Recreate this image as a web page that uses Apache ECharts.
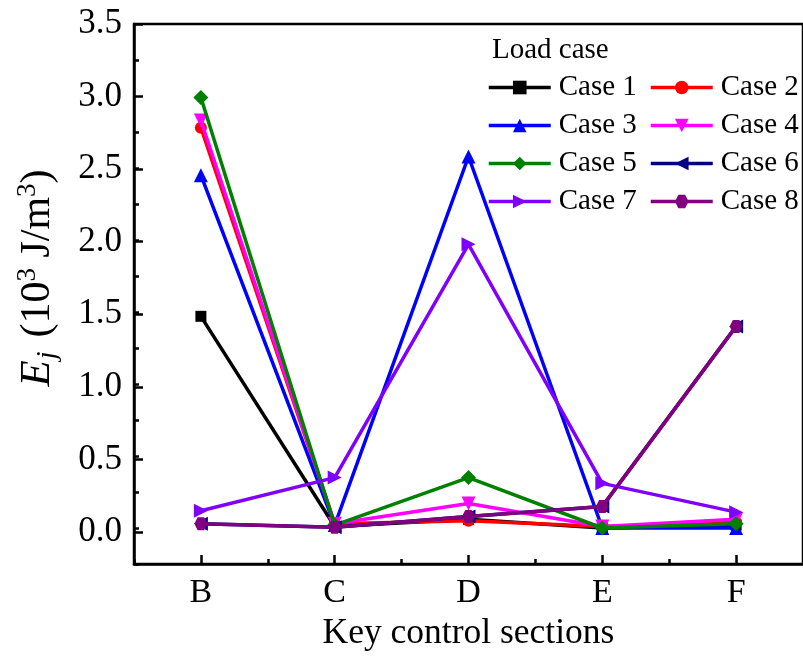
<!DOCTYPE html>
<html>
<head>
<meta charset="utf-8">
<script src="https://cdn.jsdelivr.net/npm/echarts@6/dist/echarts.min.js"></script>
<style>
html,body{margin:0;padding:0;background:#fff;}
#chart{width:803px;height:657px;}
</style>
</head>
<body>
<div id="chart"></div>
<script>
var categories = ['B', 'C', 'D', 'E', 'F'];
var seriesNames = ['Case 1', 'Case 2', 'Case 3', 'Case 4', 'Case 5', 'Case 6', 'Case 7', 'Case 8'];
var case1 = [1.47, 0.01, 0.06, 0.00, 0.02];
var case2 = [2.78, 0.03, 0.05, 0.01, 0.04];
var case3 = [2.45, 0.02, 2.58, 0.00, 0.00];
var case4 = [2.83, 0.03, 0.17, 0.01, 0.06];
var case5 = [2.99, 0.02, 0.35, 0.00, 0.03];
var case6 = [0.03, 0.005, 0.08, 0.15, 1.40];
var case7 = [0.12, 0.35, 1.97, 0.31, 0.11];
var case8 = [0.03, 0.005, 0.08, 0.15, 1.40];
var yTickLabels = ['0.0', '0.5', '1.0', '1.5', '2.0', '2.5', '3.0', '3.5'];

var values = [case1, case2, case3, case4, case5, case6, case7, case8];
var colors = ['#000000', '#ff0000', '#0000ff', '#ff00ff', '#008000', '#000080', '#8000ff', '#800080'];
var hexPath = 'path://M-10,0 L-5,-8.66 L5,-8.66 L10,0 L5,8.66 L-5,8.66 Z';
var symbols = ['rect', 'circle', 'triangle', 'triangle', 'diamond', 'triangle', 'triangle', hexPath];
var rotates = [0, 0, 0, 180, 0, 90, -90, 0];
var sizes = [11, 12, 14, 14, 15, 14, 14, 13];

var font = 'Liberation Serif';
var chart = echarts.init(document.getElementById('chart'), null, {renderer: 'canvas'});

var series = seriesNames.map(function (n, i) {
  return {
    name: n,
    type: 'line',
    xAxisIndex: 0,
    yAxisIndex: 0,
    data: values[i],
    symbol: symbols[i],
    symbolRotate: rotates[i],
    symbolSize: sizes[i],
    showAllSymbol: true,
    lineStyle: {width: 3.5, color: colors[i]},
    itemStyle: {color: colors[i]},
    emphasis: {disabled: true},
    animation: false,
    z: 2 + i
  };
});

var legendText = {fontFamily: font, fontSize: 29, color: '#000', lineHeight: 28, padding: [0, 0, 0, 3]};

var option = {
  backgroundColor: '#fff',
  animation: false,
  title: {
    text: 'Load case', left: 487, top: 31,
    textStyle: {fontFamily: font, fontSize: 29, fontWeight: 'normal', color: '#000'}
  },
  legend: [
    {data: ['Case 1', 'Case 3', 'Case 5', 'Case 7'], orient: 'vertical', left: 487, top: 73,
     itemWidth: 62, itemHeight: 17, itemGap: 9, padding: 0, textStyle: legendText,
     lineStyle: {width: 3.5}},
    {data: ['Case 2', 'Case 4', 'Case 6', 'Case 8'], orient: 'vertical', left: 649, top: 73,
     itemWidth: 62, itemHeight: 17, itemGap: 9, padding: 0, textStyle: legendText,
     lineStyle: {width: 3.5}}
  ],
  grid: [
    {left: 134, right: -4, top: 24, bottom: 88, show: true, borderColor: '#000', borderWidth: 2.5, backgroundColor: 'transparent'},
    {left: 134, right: -4, top: 24, bottom: 125, show: false}
  ],
  xAxis: [
    {type: 'category', gridIndex: 0, data: categories, boundaryGap: true, position: 'bottom',
     axisLine: {show: true, onZero: false, lineStyle: {color: '#000', width: 2.5}},
     axisTick: {show: true, alignWithLabel: true, inside: true, length: 9, lineStyle: {color: '#000', width: 2.5}},
     axisLabel: {fontFamily: font, fontSize: 34, color: '#000', margin: 12},
     name: 'Key control sections', nameLocation: 'middle', nameGap: 52,
     nameTextStyle: {fontFamily: font, fontSize: 35.5, color: '#000'},
     splitLine: {show: false}},
    {type: 'category', gridIndex: 0, data: categories, boundaryGap: true, position: 'bottom', offset: 0,
     axisLine: {show: false, onZero: false},
     axisTick: {show: true, inside: true, length: 5, lineStyle: {color: '#000', width: 2.5}},
     axisLabel: {show: false}, splitLine: {show: false}},
    {type: 'category', gridIndex: 1, data: categories, show: false}
  ],
  yAxis: [
    {type: 'value', gridIndex: 0, min: -0.25, max: 3.5, interval: 0.25,
     axisLine: {show: true, onZero: false, lineStyle: {color: '#000', width: 2.5}},
     axisTick: {show: true, inside: true, length: 5, lineStyle: {color: '#000', width: 2.5}},
     axisLabel: {show: false}, splitLine: {show: false}},
    {type: 'value', gridIndex: 1, min: 0, max: 3.5, interval: 0.5,
     axisLine: {show: false, onZero: false},
     axisTick: {show: true, inside: true, length: 9, lineStyle: {color: '#000', width: 2.5}},
     axisLabel: {fontFamily: font, fontSize: 35, color: '#000', margin: 12,
       formatter: function (v) { return yTickLabels[Math.round(v / 0.5)]; }},
     splitLine: {show: false},
     name: '{e|E}{sub|j}{t|(10}{sup|3}{t| J/m}{sup|3}{t|)}',
     nameLocation: 'middle', nameGap: 72, nameRotate: 90,
     nameTextStyle: {
       fontFamily: font, fontSize: 42, color: '#000',
       rich: {
         e: {fontFamily: font, fontSize: 43, fontStyle: 'italic', color: '#000', lineHeight: 48, verticalAlign: 'middle'},
         sub: {fontFamily: font, fontSize: 28, fontStyle: 'italic', color: '#000', lineHeight: 48, verticalAlign: 'bottom', padding: [0, 14, 0, 1]},
         t: {fontFamily: font, fontSize: 42, color: '#000', lineHeight: 48, verticalAlign: 'middle'},
         sup: {fontFamily: font, fontSize: 27, color: '#000', lineHeight: 48, verticalAlign: 'top'}
       }
     }}
  ],
  series: series
};
chart.setOption(option);
</script>
</body>
</html>
